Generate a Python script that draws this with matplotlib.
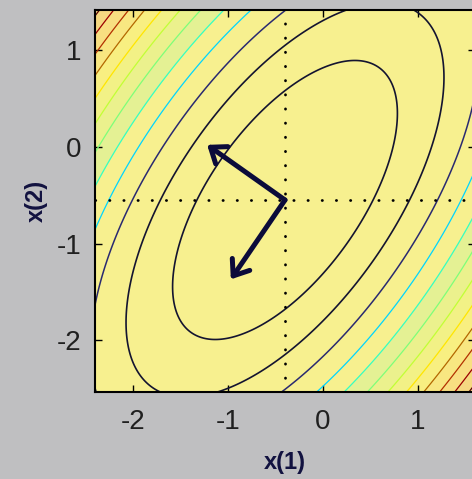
import matplotlib
matplotlib.use("Agg")
import matplotlib.pyplot as plt
import numpy as np

# mean and covariance of the quadratic form
mu = [-0.4, -0.55]
sigma = [[1.40, 1.06],
         [1.06, 2.08]]

# unit eigenvectors drawn from the mean
evecs = [[-0.82, 0.57],
         [-0.57, -0.82]]

levels = [1, 2, 3, 4, 5, 6, 7, 8, 9, 10, 11, 12, 13, 14]

xticks = [-2, -1, 0, 1]
yticks = [-2, -1, 0, 1]
xlim = (-2.4, 1.6)
ylim = (-2.535, 1.414)

plt.rcParams['font.family'] = ['Liberation Sans', 'DejaVu Sans']
plt.rcParams['axes.unicode_minus'] = False

x = np.linspace(xlim[0], xlim[1], 400)
y = np.linspace(ylim[0], ylim[1], 400)
X, Y = np.meshgrid(x, y)
inv = np.linalg.inv(np.array(sigma))
dx = X - mu[0]
dy = Y - mu[1]
Q = inv[0, 0] * dx**2 + 2 * inv[0, 1] * dx * dy + inv[1, 1] * dy**2

fig = plt.figure(figsize=(4.72, 4.79), dpi=100, facecolor='#bfbfc1')
ax = fig.add_axes([95 / 472, 1 - 392 / 479, 380 / 472, 382 / 479])

yellow = np.array([0.97, 0.94, 0.56])
jet = plt.get_cmap('jet')
norm = plt.Normalize(0, 12)
line_colors = []
line_widths = []
for l in levels:
    if l <= 2:
        line_colors.append('#141430')
        line_widths.append(1.2)
    elif l == 3:
        line_colors.append('#2a2a70')
        line_widths.append(1.1)
    else:
        c = np.array(jet(norm(l))[:3])
        if l >= 9:
            c = c * 0.7
        line_colors.append(tuple(c))
        line_widths.append(0.9)

# pale bands under the lines, faintly tinted towards the line colour
fill_levels = [0] + levels + [100]
fill_colors = []
for i in range(len(fill_levels) - 1):
    c = np.array(jet(norm(fill_levels[i]))[:3])
    w = 0.0 if fill_levels[i] < 5 else 0.1
    fill_colors.append(tuple(yellow * (1 - w) + c * w))
ax.contourf(X, Y, Q, levels=fill_levels, colors=fill_colors)
ax.contour(X, Y, Q, levels=levels, colors=line_colors, linewidths=line_widths)

# dotted cross-hair through the mean
for line in (ax.axvline(mu[0]), ax.axhline(mu[1])):
    line.set(color='black', lw=2.0, linestyle=(0, (0.1, 5.0)),
             dash_capstyle='round')

for v in evecs:
    tip = (mu[0] + v[0], mu[1] + v[1])
    ax.annotate('', xy=tip, xytext=(mu[0], mu[1]),
                arrowprops=dict(arrowstyle='->,head_length=0.5,head_width=0.38',
                                lw=3.6, color='#0b0b3a', mutation_scale=20,
                                shrinkA=0, shrinkB=0))

ax.set_xlim(*xlim)
ax.set_ylim(*ylim)
ax.set_xticks(xticks)
ax.set_yticks(yticks)
ax.tick_params(direction='in', length=5, width=1, top=True, right=True,
               labelsize=20, colors='black', labelcolor='#202020')
ax.tick_params(axis='x', pad=12)
ax.tick_params(axis='y', pad=10)
for s in ax.spines.values():
    s.set_linewidth(1.5)

ax.set_xlabel('x(1)', fontsize=17, fontweight='bold', color='#121240', labelpad=12)
ax.set_ylabel('x(2)', fontsize=17, fontweight='bold', color='#121240', labelpad=6)

fig.savefig('out.png', dpi=100, facecolor=fig.get_facecolor())
